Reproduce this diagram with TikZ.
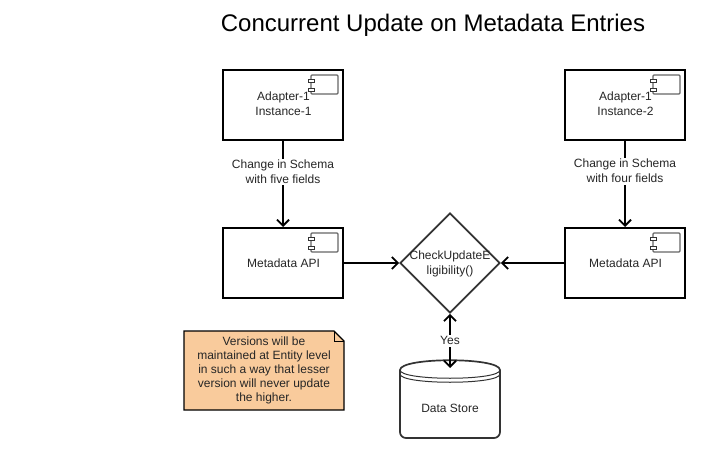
\documentclass[tikz,border=0pt]{standalone}
\usepackage{fontspec}
\setmainfont{Liberation Sans}
\usetikzlibrary{shapes.geometric,arrows.meta}
\definecolor{notefill}{HTML}{F9CB9C}
\definecolor{icongray}{HTML}{666666}
\definecolor{diagray}{HTML}{333333}
\tikzset{
  x=1pt,y=-1pt,
  every node/.style={font=\fontsize{12}{15}\selectfont,text=black!85},
  compbox/.style={draw=black,line width=2pt,fill=white,minimum width=120pt,minimum height=70pt,inner sep=0pt,align=center},
  decision/.style={diamond,draw=diagray,line width=1.7pt,fill=white,minimum width=100pt,minimum height=100pt,inner sep=0pt,align=center},
  flow/.style={draw=black,line width=2pt,-{Straight Barb[length=6pt,width=12pt,line width=1.8pt]}},
  flowboth/.style={draw=black,line width=2pt,{Straight Barb[length=6pt,width=12pt,line width=1.8pt]}-{Straight Barb[length=6pt,width=12pt,line width=1.8pt]}},
  edgelabel/.style={fill=white,inner sep=1.5pt,align=center},
  iconbody/.style={draw=icongray,line width=1.2pt,fill=white,rounded corners=1pt},
  iconpin/.style={draw=black!80,line width=0.8pt,fill=white},
}
\newcommand{\compicon}[1]{%
  \path (#1.north east) ++(-33,6) coordinate (a) ++(27,0) coordinate (b) ++(0,19) coordinate (c) ++(-27,0) coordinate (d);
  \draw[iconbody] (a) rectangle (c);
  \draw[iconpin] ([shift={(-3,4)}]a) rectangle ([shift={(3,7)}]a);
  \draw[iconpin] ([shift={(-3,13)}]a) rectangle ([shift={(3,16)}]a);
}
\begin{document}
\begin{tikzpicture}
\useasboundingbox (0,0) rectangle (711,465);
\node (title) at (433,25) {\fontsize{24}{28}\selectfont\color{black}Concurrent Update on Metadata Entries};

\node[compbox] (a1) at (283,105) {};
\node[compbox] (a2) at (625,105) {};
\node[compbox] (m1) at (283,263) {};
\node[compbox] (m2) at (625,263) {};
\compicon{a1}
\compicon{a2}
\compicon{m1}
\compicon{m2}
\node[anchor=center,align=center] (a1t) at (283.5,104) {Adapter-1\\Instance-1};
\node[anchor=center,align=center] (a2t) at (625.5,104) {Adapter-1\\Instance-2};
\node (m1t) at (283.5,263) {Metadata API};
\node (m2t) at (625.5,263) {Metadata API};

\node[decision] (chk) at (450,263) {};
\node[align=center] (chkt) at (450,264) {CheckUpdateE\\ligibility()};

% data store
\coordinate (storetop) at (450,368);
\filldraw[draw=diagray,line width=1.7pt,fill=white]
  (400,370) .. controls (400,357) and (500,357) .. (500,370)
  -- (500,432) arc[start angle=0,end angle=90,radius=6] -- (406,438) arc[start angle=90,end angle=180,radius=6] -- cycle;
\draw[diagray,line width=1pt] (400,370) .. controls (400,381) and (500,381) .. (500,370);
\draw[diagray,line width=1pt] (400,374) .. controls (400,385) and (500,385) .. (500,374);
\node (store) at (450,408) {Data Store};

% note
\filldraw[draw=black,line width=1.2pt,fill=notefill]
  (184,331) -- (334,331) -- (344,341) -- (344,410) -- (184,410) -- cycle;
\draw[black,line width=1pt] (334,331) -- (334,341) -- (344,341);
\node[align=center,font=\fontsize{12}{14}\selectfont] (note) at (264,370) {Versions will be\\maintained at Entity level\\in such a way that lesser\\version will never update\\the higher.};

% connectors
\draw[flow] (a1) -- node[edgelabel,pos=0.36] {Change in Schema\\with five fields} (m1);
\draw[flow] (a2) -- node[edgelabel,pos=0.35] {Change in Schema\\with four fields} (m2);
\draw[flow] (m1) -- (chk);
\draw[flow] (m2) -- (chk);
\draw[flowboth] (chk) -- node[edgelabel,pos=0.5] {Yes} (storetop);
\end{tikzpicture}
\end{document}
